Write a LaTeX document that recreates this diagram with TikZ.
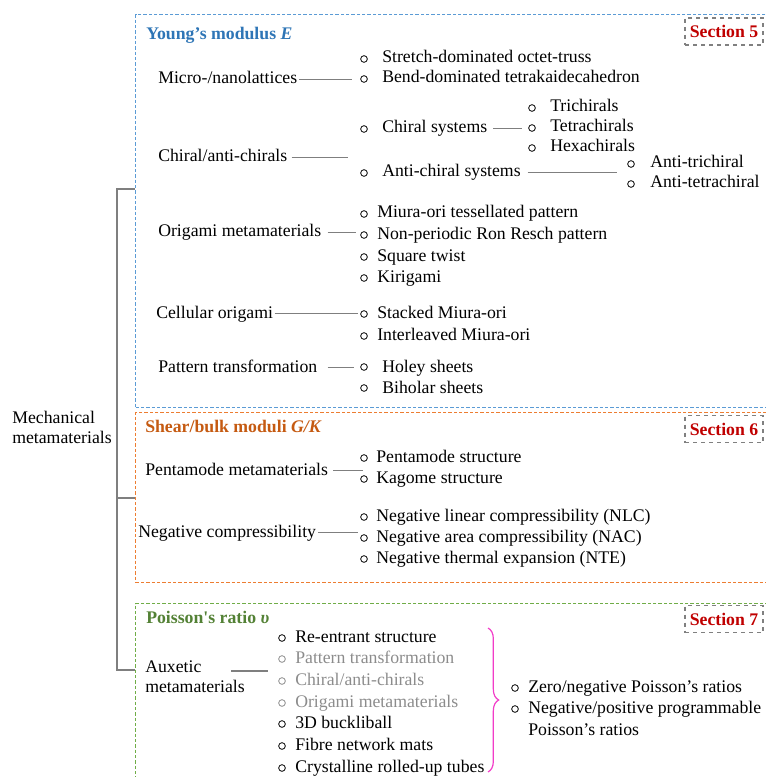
\documentclass[tikz,border=0pt]{standalone}
\usepackage{fontspec}
\setmainfont{Liberation Serif}
\usetikzlibrary{decorations.pathreplacing}
\definecolor{blueT}{HTML}{2E75B6}
\definecolor{blueB}{HTML}{5B9BD5}
\definecolor{orangeT}{HTML}{C55A11}
\definecolor{orangeB}{HTML}{ED7D31}
\definecolor{greenT}{HTML}{538135}
\definecolor{greenB}{HTML}{70AD47}
\definecolor{secR}{HTML}{C00000}
\definecolor{secG}{HTML}{808080}
\definecolor{lineG}{HTML}{7F7F7F}
\definecolor{greyT}{HTML}{8C8C8C}
\definecolor{braceM}{HTML}{F23CC8}
\begin{document}
\begin{tikzpicture}[x=0.75pt,y=-0.75pt,
  font=\fontsize{13.3}{16}\selectfont,
  txt/.style={anchor=base west, inner sep=0pt, text height=9.5pt, text depth=2.5pt},
  gtxt/.style={txt, text=greyT},
  bul/.style={circle, draw, line width=0.6pt, minimum size=5pt, inner sep=0pt},
  gbul/.style={bul, draw=greyT},
  conn/.style={draw=lineG, line width=1pt},
  tree/.style={draw=lineG, line width=1.3pt},
  ttl/.style={txt, font=\fontsize{13.3}{16}\selectfont\bfseries},
  secbox/.style={draw=secG, dashed, line width=1pt, minimum width=58.5pt, minimum height=20.25pt,
    inner sep=0pt, text=secR, font=\fontsize{13.3}{16}\selectfont\bfseries},
  catbox/.style={dash pattern=on 2.5pt off 1.5pt, line width=1pt, anchor=north west, inner sep=0pt,
    minimum width=474.75pt},
]
\useasboundingbox (0,0) rectangle (765,777);

% category boxes
\node[catbox, draw=blueB, minimum height=294.75pt] (boxE) at (135,14) {};
\node[catbox, draw=orangeB, minimum height=127.5pt] (boxK) at (135,412) {};
\node[catbox, draw=greenB, minimum height=141pt] (boxG) at (135,603) {};

% root and tree
\node[txt] (mech1) at (12,423) {Mechanical};
\node[txt] (mech2) at (12,443) {metamaterials};
\coordinate (tTop) at (117,189);
\coordinate (tMid) at (117,498);
\coordinate (tBot) at (117,670);
\draw[tree] (tTop -| boxE.west) -- (tTop) -- (tBot) -- (tBot -| boxG.west);
\draw[tree] (tMid) -- (tMid -| boxK.west);

% ---------------- Young's modulus
\node[ttl, text=blueT] (tE) at (146,40) {Young’s modulus \textit{E}};
\node[secbox] (s5) at (724,31.5) {Section 5};

\node[txt] (micro) at (158,84) {Micro-/nanolattices};
\node[bul] (bm1) at (364,59) {};
\node[txt] (m1) at (382,63) {Stretch-dominated octet-truss};
\node[bul] (bm2) at (364,79) {};
\node[txt] (m2) at (382,83) {Bend-dominated tetrakaidecahedron};
\coordinate (eMicro) at (352,0);
\draw[conn] ([xshift=1.5pt]micro.east) -- (micro.east -| eMicro);

\node[txt] (chir) at (158,162) {Chiral/anti-chirals};
\coordinate (eChir) at (348,0);
\draw[conn] ([xshift=3pt]chir.east) -- (chir.east -| eChir);

\node[bul] (bcs) at (364,129) {};
\node[txt] (cs) at (382,133) {Chiral systems};
\coordinate (eCs) at (522,0);
\draw[conn] ([xshift=4.5pt]cs.east) -- (cs.east -| eCs);
\node[bul] (bt1) at (532,108) {};
\node[txt] (t1) at (550,112) {Trichirals};
\node[bul] (bt2) at (532,128) {};
\node[txt] (t2) at (550,132) {Tetrachirals};
\node[bul] (bt3) at (532,148) {};
\node[txt] (t3) at (550,152) {Hexachirals};

\node[bul] (bac) at (364,173) {};
\node[txt] (ac) at (382,177) {Anti-chiral systems};
\coordinate (eAc) at (617,0);
\draw[conn] ([xshift=5pt]ac.east) -- (ac.east -| eAc);
\node[bul] (ba1) at (631,164) {};
\node[txt] (a1) at (650,168) {Anti-trichiral};
\node[bul] (ba2) at (631,184) {};
\node[txt] (a2) at (650,188) {Anti-tetrachiral};

\node[txt] (ori) at (158,237) {Origami metamaterials};
\node[bul] (bo1) at (364,214) {};
\node[txt] (o1) at (377,218) {Miura-ori tessellated pattern};
\node[bul] (bo2) at (364,235) {};
\node[txt] (o2) at (377,239.5) {Non-periodic Ron Resch pattern};
\node[bul] (bo3) at (364,257) {};
\node[txt] (o3) at (377,261) {Square twist};
\node[bul] (bo4) at (364,278) {};
\node[txt] (o4) at (377,282) {Kirigami};
\coordinate (eOri) at (356,0);
\draw[conn] ([xshift=4.5pt]ori.east) -- (ori.east -| eOri);

\node[txt] (cell) at (156,318) {Cellular origami};
\node[bul] (bc1) at (364,314) {};
\node[txt] (c1) at (377,318) {Stacked Miura-ori};
\node[bul] (bc2) at (364,336) {};
\node[txt] (c2) at (377,340) {Interleaved Miura-ori};
\coordinate (eCell) at (358,0);
\draw[conn] ([xshift=1pt]cell.east) -- (cell.east -| eCell);

\node[txt] (pat) at (158,372) {Pattern transformation};
\node[bul] (bp1) at (364,367) {};
\node[txt] (p1) at (382,372) {Holey sheets};
\node[bul] (bp2) at (364,388) {};
\node[txt] (p2) at (382,393) {Biholar sheets};
\coordinate (ePat) at (354,0);
\draw[conn] ([xshift=7.5pt]pat.east) -- (pat.east -| ePat);

% ---------------- Shear / bulk
\node[ttl, text=orangeT] (tK) at (145,432) {Shear/bulk moduli \textit{G/K}};
\node[secbox] (s6) at (724,429) {Section 6};

\node[txt] (pen) at (145,475) {Pentamode metamaterials};
\node[bul] (bn1) at (364,458) {};
\node[txt] (n1) at (376,462) {Pentamode structure};
\node[bul] (bn2) at (364,479) {};
\node[txt] (n2) at (376,483) {Kagome structure};
\coordinate (ePen) at (363,0);
\draw[conn] ([xshift=3.75pt]pen.east) -- (pen.east -| ePen);

\node[txt] (neg) at (138,537) {Negative compressibility};
\node[bul] (bq1) at (364,517) {};
\node[txt] (q1) at (376,521) {Negative linear compressibility (NLC)};
\node[bul] (bq2) at (364,538) {};
\node[txt] (q2) at (376,542) {Negative area compressibility (NAC)};
\node[bul] (bq3) at (364,559) {};
\node[txt] (q3) at (376,563) {Negative thermal expansion (NTE)};
\coordinate (eNeg) at (358,0);
\draw[conn] ([xshift=1.5pt]neg.east) -- (neg.east -| eNeg);

% ---------------- Poisson's ratio
\node[ttl, text=greenT] (tG) at (146,623) {Poisson\textquotesingle s ratio \textit{υ}};
\node[secbox] (s7) at (724,619) {Section 7};

\node[txt] (aux1) at (145,672) {Auxetic};
\node[txt] (aux2) at (145,692) {metamaterials};
\coordinate (auxA) at (231,671);
\coordinate (auxB) at (268,671);
\draw[conn] (auxA) -- (auxB);

\node[bul] (bx1) at (282,638) {};
\node[txt] (x1) at (295,642) {Re-entrant structure};
\node[gbul] (bx2) at (282,659) {};
\node[gtxt] (x2) at (295,663) {Pattern transformation};
\node[gbul] (bx3) at (282,681) {};
\node[gtxt] (x3) at (295,685) {Chiral/anti-chirals};
\node[gbul] (bx4) at (282,703) {};
\node[gtxt] (x4) at (295,707) {Origami metamaterials};
\node[bul] (bx5) at (282,724) {};
\node[txt] (x5) at (295,728) {3D buckliball};
\node[bul] (bx6) at (282,746) {};
\node[txt] (x6) at (295,750) {Fibre network mats};
\node[bul] (bx7) at (282,768) {};
\node[txt] (x7) at (295,772) {Crystalline rolled-up tubes};

\coordinate (brT) at (488,628);
\coordinate (brB) at (488,772);
\draw[braceM, line width=0.9pt, decorate, decoration={brace, amplitude=8pt}] (brT) -- (brB);

\node[bul] (bz1) at (515,688) {};
\node[txt] (z1) at (528,692) {Zero/negative Poisson’s ratios};
\node[bul] (bz2) at (515,709) {};
\node[txt] (z2) at (528,713) {Negative/positive programmable};
\node[txt] (z3) at (528,735) {Poisson’s ratios};
\end{tikzpicture}
\end{document}
